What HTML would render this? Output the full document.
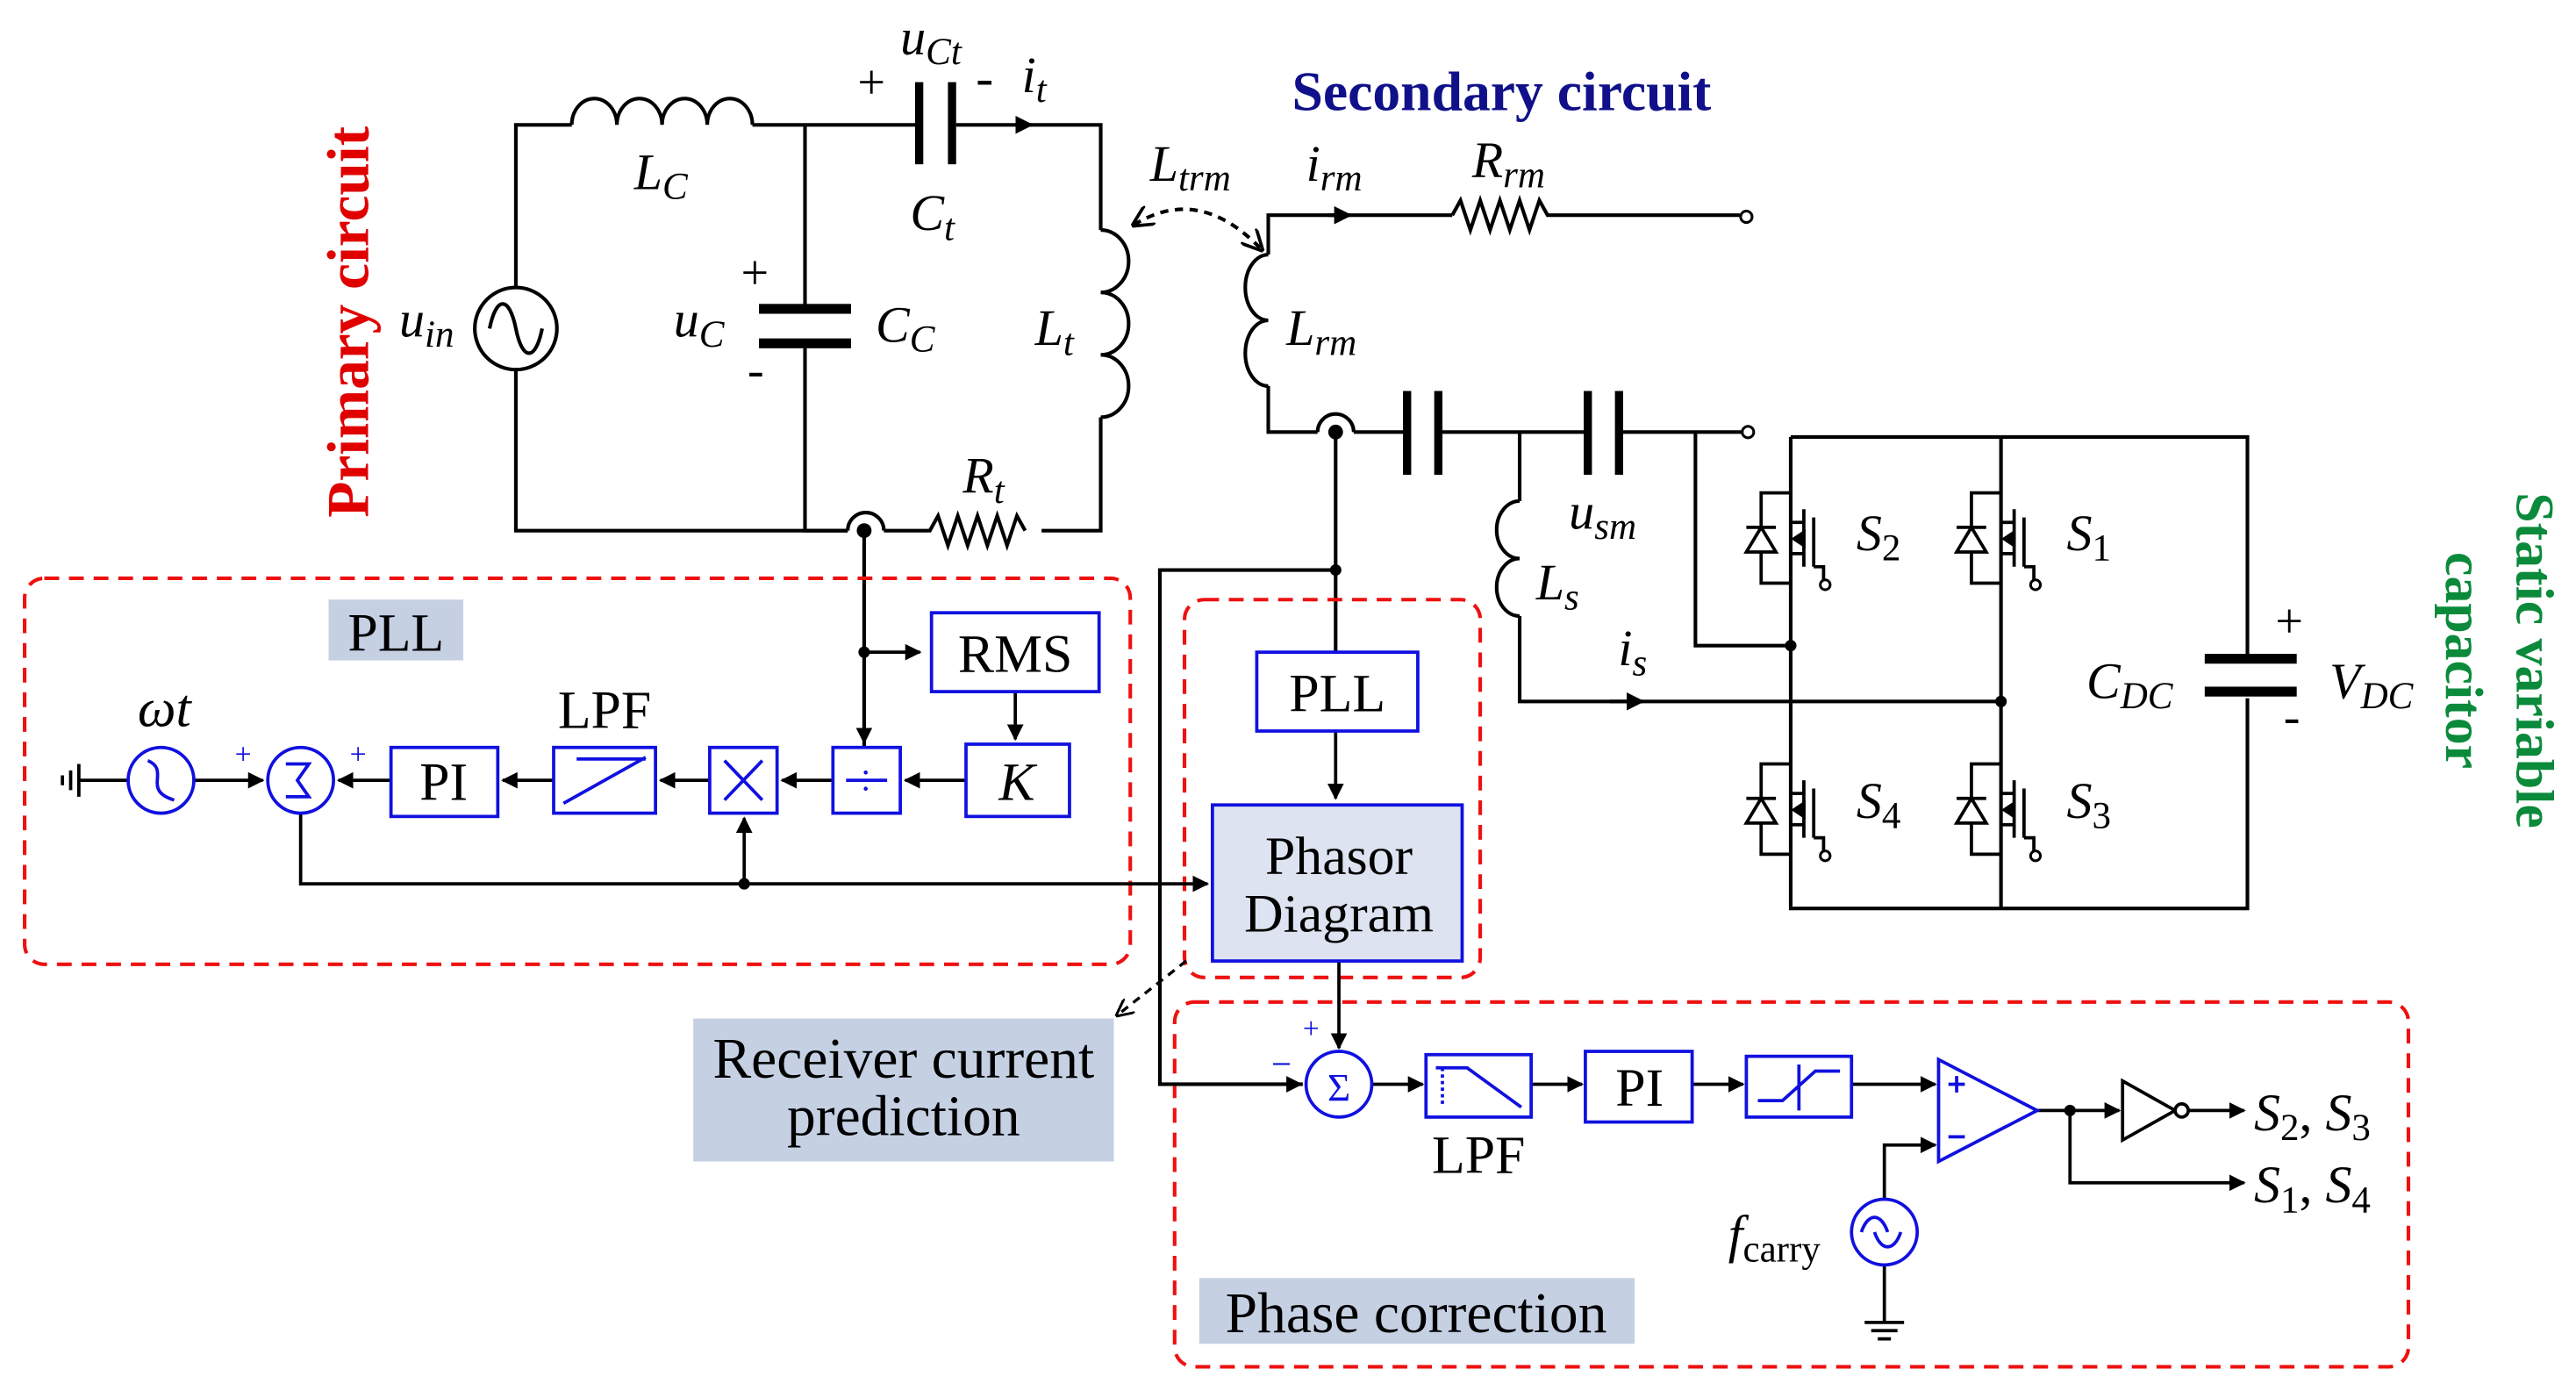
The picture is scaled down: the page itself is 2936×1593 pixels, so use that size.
<!DOCTYPE html>
<html><head><meta charset="utf-8"><style>
html,body{margin:0;padding:0;background:#fff;}
svg{display:block;}
text{font-family:"Liberation Serif",serif;}
.i{font-style:italic;}
</style></head><body>
<svg width="2936" height="1593" viewBox="0 0 1568 851" preserveAspectRatio="none" xmlns="http://www.w3.org/2000/svg">
<defs>
<marker id="ar" viewBox="0 0 10 10" refX="9" refY="5" markerWidth="5" markerHeight="5" orient="auto"><path d="M0,0L10,5L0,10z" fill="#000"/></marker>
<marker id="ad" viewBox="0 0 10 10" refX="9" refY="5" markerWidth="6" markerHeight="6" orient="auto-start-reverse"><path d="M0,0L10,5L0,10" fill="none" stroke="#000" stroke-width="1.5"/></marker>
</defs>
<rect width="1568" height="851" fill="#fff"/>
<g stroke="#000" stroke-width="2.2" fill="none">
<path d="M314,175V76H348"/>
<path d="M314,225V323H516"/>
<circle cx="314" cy="200" r="25"/>
<path d="M298,200c4,-20 12,-20 16,0s12,20 16,0"/>
<path d="M348,76a13.75,16 0 0 1 27.5,0a13.75,16 0 0 1 27.5,0a13.75,16 0 0 1 27.5,0a13.75,16 0 0 1 27.5,0"/>
<path d="M458,76H558M582,76H670V140"/>
<path d="M670,140a17,19 0 0 1 0,38a17,19 0 0 1 0,38a17,19 0 0 1 0,38"/>
<path d="M670,254V323H634"/>
<path d="M538,323H566l5,-9l6,18l6,-18l6,18l6,-18l6,18l6,-18l6,18l6,-18l5,9"/>
<path d="M516,323a11,11 0 0 1 22,0"/>
<path d="M490,76V187M490,212V323H516"/>
<path d="M526,323V455" />
<path d="M619,76H628" marker-end="url(#ar)"/>
</g>
<g fill="#000">
<rect x="557" y="50" width="5" height="50"/><rect x="577" y="50" width="5" height="50"/>
<rect x="462" y="185" width="56" height="6"/><rect x="462" y="206" width="56" height="6"/>
<circle cx="526" cy="323" r="4.5"/>
</g>
<g font-size="31" fill="#000">
<text x="548" y="33" class="i">u<tspan font-size="23" dy="6">Ct</tspan></text>
<text x="522" y="60" font-size="30">+</text><text x="594" y="58" font-size="32">-</text>
<text x="622" y="56" class="i">i<tspan font-size="23" dy="6">t</tspan></text>
<text x="386" y="115" class="i">L<tspan font-size="23" dy="6">C</tspan></text>
<text x="554" y="140" class="i">C<tspan font-size="23" dy="6">t</tspan></text>
<text x="410" y="205" class="i">u<tspan font-size="23" dy="6">C</tspan></text>
<text x="451" y="176" font-size="30">+</text><text x="455" y="235" font-size="30">-</text>
<text x="533" y="208" class="i">C<tspan font-size="23" dy="6">C</tspan></text>
<text x="630" y="210" class="i">L<tspan font-size="23" dy="6">t</tspan></text>
<text x="586" y="300" class="i">R<tspan font-size="23" dy="6">t</tspan></text>
<text x="243" y="205" class="i">u<tspan font-size="23" dy="6">in</tspan></text>
</g>
<text transform="translate(224,196) rotate(-90)" text-anchor="middle" font-size="36" font-weight="bold" fill="#e00000">Primary circuit</text>
<text x="914" y="67" text-anchor="middle" font-size="34" font-weight="bold" fill="#10108a">Secondary circuit</text>
<text transform="translate(1532,402) rotate(90)" text-anchor="middle" font-size="33" font-weight="bold" fill="#0a8a3a">Static variable</text>
<text transform="translate(1489,402) rotate(90)" text-anchor="middle" font-size="33" font-weight="bold" fill="#0a8a3a">capacitor</text>
<g stroke="#000" stroke-width="2.2" fill="none">
<path d="M690,137Q730,112 768,152" stroke-dasharray="5,4" marker-start="url(#ad)" marker-end="url(#ad)"/>
<path d="M772,155V131H884"/>
<path d="M808,131H822" marker-end="url(#ar)"/>
<path d="M884,131l5,-9l6,18l6,-18l6,18l6,-18l6,18l6,-18l6,18l6,-18l5,9H1059"/>
<circle cx="1063" cy="132" r="3.5" stroke-width="1.6"/>
<path d="M772,155a14,20 0 0 0 0,40a14,20 0 0 0 0,40"/>
<path d="M772,235V263H802M802,263a11,11 0 0 1 22,0M824,263H856M877,263H966M987,263H1060"/>
<circle cx="1064" cy="263" r="3.5" stroke-width="1.6"/>
<path d="M813,263V397M813,347H706V660H793"/>
<path d="M925,263V305"/>
<path d="M925,305a14,17.5 0 0 0 0,35a14,17.5 0 0 0 0,35"/>
<path d="M925,375V427H1218"/>
<path d="M980,427H1000" marker-end="url(#ar)"/>
<path d="M1032,263V393H1090"/>
<path d="M1090,266H1368V400M1368,425V553H1090V266M1218,266V553"/>
</g>
<g fill="#000">
<rect x="854" y="238" width="5" height="51"/><rect x="873" y="238" width="5" height="51"/>
<rect x="964" y="238" width="5" height="51"/><rect x="983" y="238" width="5" height="51"/>
<rect x="1342" y="398" width="56" height="6"/><rect x="1342" y="418" width="56" height="6"/>
<circle cx="813" cy="263" r="4.5"/><circle cx="813" cy="347" r="3.5"/>
<circle cx="1090" cy="393" r="3.5"/><circle cx="1218" cy="427" r="3.5"/>
</g>
<g id="sw" stroke="#000" stroke-width="2" fill="none">
<path d="M1090,300H1072V355H1090"/>
<path d="M1063,336H1081L1072,321z" fill="#fff"/><path d="M1063,321H1081"/>
<path d="M1098,310V345M1104,315V345M1104,345H1110V355"/>
<path d="M1090,318H1098M1090,337H1098"/>
<path d="M1092,328l6,-4v8z" fill="#000"/>
</g>
<circle cx="1111" cy="356" r="3" fill="#fff" stroke="#000" stroke-width="1.6"/>
<use href="#sw" transform="translate(128,0)"/><circle cx="1239" cy="356" r="3" fill="#fff" stroke="#000" stroke-width="1.6"/>
<use href="#sw" transform="translate(0,165)"/><circle cx="1111" cy="521" r="3" fill="#fff" stroke="#000" stroke-width="1.6"/>
<use href="#sw" transform="translate(128,165)"/><circle cx="1239" cy="521" r="3" fill="#fff" stroke="#000" stroke-width="1.6"/>
<g font-size="31" fill="#000">
<text x="700" y="110" class="i">L<tspan font-size="23" dy="6">trm</tspan></text>
<text x="795" y="110" class="i">i<tspan font-size="23" dy="6">rm</tspan></text>
<text x="896" y="108" class="i">R<tspan font-size="23" dy="6">rm</tspan></text>
<text x="783" y="210" class="i">L<tspan font-size="23" dy="6">rm</tspan></text>
<text x="955" y="322" class="i">u<tspan font-size="23" dy="6">sm</tspan></text>
<text x="935" y="365" class="i">L<tspan font-size="23" dy="6">s</tspan></text>
<text x="985" y="405" class="i">i<tspan font-size="23" dy="6">s</tspan></text>
<text x="1130" y="335" class="i">S<tspan font-size="23" font-style="normal" dy="6">2</tspan></text>
<text x="1258" y="335" class="i">S<tspan font-size="23" font-style="normal" dy="6">1</tspan></text>
<text x="1130" y="498" class="i">S<tspan font-size="23" font-style="normal" dy="6">4</tspan></text>
<text x="1258" y="498" class="i">S<tspan font-size="23" font-style="normal" dy="6">3</tspan></text>
<text x="1270" y="425" class="i">C<tspan font-size="23" dy="6">DC</tspan></text>
<text x="1418" y="425" class="i">V<tspan font-size="23" dy="6">DC</tspan></text>
<text x="1385" y="388" font-size="30">+</text><text x="1390" y="446" font-size="30">-</text>
</g>
<g stroke="#ee1111" stroke-width="2.2" fill="none" stroke-dasharray="9,6">
<rect x="15" y="352" width="673" height="235" rx="12"/>
<rect x="721" y="365" width="180" height="230" rx="12"/>
<rect x="715" y="610" width="751" height="222" rx="12"/>
</g>
<rect x="200" y="365" width="82" height="37" fill="#c5d0e3"/>
<text x="241" y="396" text-anchor="middle" font-size="33">PLL</text>
<rect x="422" y="620" width="256" height="87" fill="#c5d0e3"/>
<text x="550" y="656" text-anchor="middle" font-size="35">Receiver current</text>
<text x="550" y="691" text-anchor="middle" font-size="35">prediction</text>
<rect x="730" y="778" width="265" height="40" fill="#c5d0e3"/>
<text x="862" y="811" text-anchor="middle" font-size="35">Phase correction</text>
<path d="M722,585L680,618" stroke="#000" stroke-width="1.8" stroke-dasharray="5,4" fill="none" marker-end="url(#ad)"/>
<g stroke="#000" stroke-width="2" fill="none">
<path d="M526,397H560" marker-end="url(#ar)"/>
<path d="M618,421V450" marker-end="url(#ar)"/>
<path d="M588,475H551" marker-end="url(#ar)"/>
<path d="M507,475H476" marker-end="url(#ar)"/>
<path d="M432,475H402" marker-end="url(#ar)"/>
<path d="M337,475H306" marker-end="url(#ar)"/>
<path d="M238,475H206" marker-end="url(#ar)"/>
<path d="M118,475H160" marker-end="url(#ar)"/>
<path d="M78,475H48M48,465V485M43,469V481M38,472V478"/>
<path d="M183,495V538H735" marker-end="url(#ar)"/>
<path d="M453,538V498" marker-end="url(#ar)"/>
<path d="M526,397V452" marker-end="url(#ar)"/>
<path d="M813,445V486" marker-end="url(#ar)"/>
<path d="M815,585V638" marker-end="url(#ar)"/>
<path d="M706,660H792" marker-end="url(#ar)"/>
<path d="M835,660H866" marker-end="url(#ar)"/>
<path d="M932,660H963" marker-end="url(#ar)"/>
<path d="M1030,660H1061" marker-end="url(#ar)"/>
<path d="M1127,660H1178" marker-end="url(#ar)"/>
<path d="M1240,676H1290" marker-end="url(#ar)"/>
<path d="M1332,676H1366" marker-end="url(#ar)"/>
<path d="M1260,676V720H1366" marker-end="url(#ar)"/>
<path d="M1147,730V697H1178" marker-end="url(#ar)"/>
<path d="M1147,770V805M1135,805H1159M1139,810H1155M1143,815H1151"/>
</g>
<g fill="#000"><circle cx="526" cy="397" r="3.5"/><circle cx="453" cy="538" r="3.5"/><circle cx="1260" cy="676" r="3.5"/></g>
<g stroke="#1010e0" stroke-width="2" fill="#fff">
<rect x="567" y="373" width="102" height="48"/>
<rect x="588" y="453" width="63" height="44"/>
<rect x="507" y="455" width="41" height="40"/>
<rect x="432" y="455" width="41" height="40"/>
<rect x="337" y="455" width="62" height="40"/>
<rect x="238" y="455" width="65" height="42"/>
<circle cx="183" cy="475" r="20"/>
<circle cx="98" cy="475" r="20"/>
<rect x="765" y="397" width="98" height="48"/>
<rect x="738" y="490" width="152" height="95" fill="#dde3f0"/>
<circle cx="815" cy="660" r="20"/>
<rect x="868" y="642" width="64" height="38"/>
<rect x="965" y="640" width="65" height="43"/>
<rect x="1063" y="643" width="64" height="37"/>
<path d="M1180,645V707L1240,676z"/>
<circle cx="1147" cy="750" r="20"/>
<path d="M1292,658V694L1324,676z" stroke="#000"/>
<circle cx="1328" cy="676" r="4" stroke="#000"/>
</g>
<g stroke="#1010e0" stroke-width="2" fill="none">
<path d="M343,489L393,461M351,462H393" />
<path d="M441,463L464,487M464,463L441,487"/>
<path d="M515,475H540"/>
<path d="M90,463c14,6 -4,18 16,24"/>
<path d="M174,465h14l-7,10l7,10h-14"/>
<path d="M1133,750c4,-12 12,-12 16,0"/><path d="M1149,750c4,12 12,12 16,0" transform="translate(-8,0)"/>
<path d="M874,650H893L926,674" /><path d="M878,650V672" stroke-dasharray="2,2"/>
<path d="M1070,670H1085L1105,652H1120M1095,648V676"/>
<path d="M1186,660h10M1191,655v10M1186,692h10"/>
</g>
<g font-size="33" fill="#000" text-anchor="middle">
<text x="618" y="409">RMS</text>
<text x="619" y="487" class="i">K</text>
<text x="527" y="484" font-size="26" fill="#1010e0">÷</text>
<text x="270" y="487">PI</text>
<text x="368" y="443">LPF</text>
<text x="100" y="442" class="i">ωt</text>
<text x="148" y="465" font-size="18" fill="#1010e0">+</text>
<text x="218" y="465" font-size="18" fill="#1010e0">+</text>
<text x="814" y="433">PLL</text>
<text x="815" y="532">Phasor</text>
<text x="815" y="567">Diagram</text>
<text x="998" y="673">PI</text>
<text x="900" y="714">LPF</text>
<text x="815" y="670" font-size="24" fill="#1010e0">Σ</text>
<text x="798" y="632" font-size="18" fill="#1010e0">+</text>
<text x="780" y="655" font-size="22" fill="#1010e0">−</text>
</g>
<g font-size="32" fill="#000">
<text x="1052" y="762" class="i">f<tspan font-size="23" font-style="normal" dy="6">carry</tspan></text>
<text x="1372" y="688" class="i">S<tspan font-size="23" font-style="normal" dy="6">2</tspan><tspan dy="-6" font-style="normal">, </tspan>S<tspan font-size="23" font-style="normal" dy="6">3</tspan></text>
<text x="1372" y="732" class="i">S<tspan font-size="23" font-style="normal" dy="6">1</tspan><tspan dy="-6" font-style="normal">, </tspan>S<tspan font-size="23" font-style="normal" dy="6">4</tspan></text>
</g>
</svg>
</body></html>
